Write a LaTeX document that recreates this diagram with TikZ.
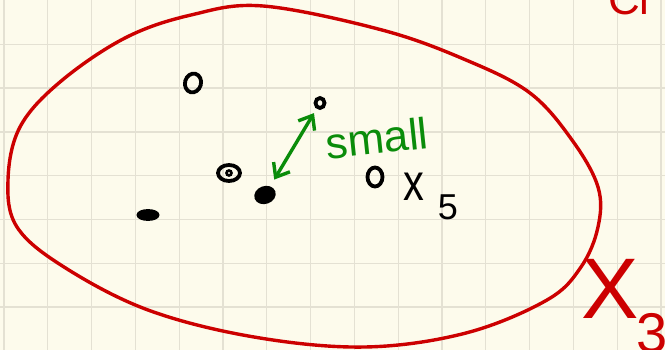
\documentclass[tikz,border=0pt]{standalone}
\usepackage{fontspec}
\setsansfont{Liberation Sans}
\usetikzlibrary{arrows.meta,shapes.geometric}
\definecolor{paper}{HTML}{FDFBEC}
\definecolor{gridc}{HTML}{E4E1D3}
\definecolor{inkred}{HTML}{CC0000}
\definecolor{inkgreen}{HTML}{0A8C0A}

\begin{document}
\begin{tikzpicture}[
  x=1pt, y=-1pt,
  gridline/.style={draw=gridc, line width=1.3pt},
  dot/.style={draw, ellipse, line width=3.8pt, inner sep=0pt},
  edge/.style={{Straight Barb[length=12pt,width=19pt]}-{Straight Barb[length=12pt,width=19pt]}, draw=inkgreen, line width=3.4pt, line cap=round},
  hand/.style={font=\sffamily, inner sep=0pt},
  rim/.style={draw=inkred, line width=3.4pt}
]
\useasboundingbox (0,0) rectangle (665,350);
\fill[paper] (0,0) rectangle (665,350);
\clip (0,0) rectangle (665,350);
\foreach \gx in {0,...,15} \draw[gridline] (4+43.8*\gx,0) -- (4+43.8*\gx,350);
\foreach \gy in {1,...,7} \draw[gridline] (0,0.5+43.8*\gy) -- (665,0.5+43.8*\gy);

\draw[rim] plot[smooth cycle, tension=0.6] coordinates {
  (263,6) (382,30) (466,60) (530,93) (572,140) (598,187) (598,227)
  (581,267) (547,300) (466,333) (365,347) (254,337) (148,310) (64,267)
  (17,227) (8,180) (20,127) (60,82) (125,38) (191,15)};

\node[dot, minimum width=16pt, minimum height=19pt, rotate=-15] (p1) at (193,83) {};
\node[dot, minimum width=9pt, minimum height=10pt] (p2) at (320,103) {};
\node[dot, minimum width=22pt, minimum height=16pt] (p3) at (229,173) {};
\node[dot, minimum width=5pt, minimum height=5pt, line width=2.6pt] at (p3) {};
\node[dot, fill, minimum width=18pt, minimum height=14pt, rotate=20] (p4) at (265,195) {};
\node[dot, fill, minimum width=19pt, minimum height=8pt] (p5) at (148,215) {};
\node[dot, minimum width=15pt, minimum height=19pt] (p6) at (375,177) {};

\draw[edge, shorten <=8pt, shorten >=5pt] (p4) -- (p2);
\node[hand, text=inkgreen, font=\sffamily\fontsize{44}{44}\selectfont, rotate=6] (lsmall) at (377,138) {small};

\node[hand, font=\sffamily\fontsize{52}{52}\selectfont, xscale=0.8] (lx) at (414,187) {x};
\node[hand, font=\sffamily\fontsize{36}{36}\selectfont] (l5) at (448,207) {5};

\node[hand, text=inkred, font=\sffamily\fontsize{86}{86}\selectfont] (lX) at (610,289) {X};
\node[hand, text=inkred, font=\sffamily\fontsize{56}{56}\selectfont] (l3) at (652,333) {3};
\node[hand, text=inkred, font=\sffamily\fontsize{44}{44}\selectfont, anchor=base west] (lcl) at (608,15) {Cl};
\end{tikzpicture}
\end{document}
